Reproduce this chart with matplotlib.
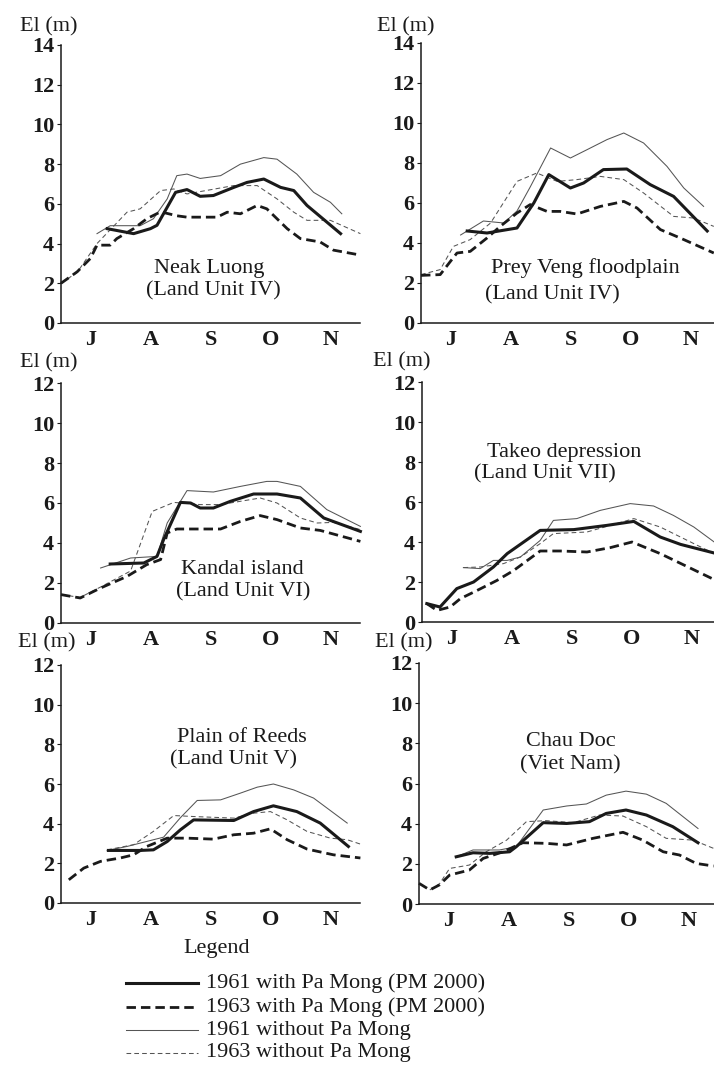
import matplotlib
matplotlib.use("Agg")
import matplotlib.pyplot as plt
from matplotlib.lines import Line2D

plt.rcParams['font.family'] = ['Liberation Serif', 'DejaVu Serif']

# ---------------- data (x in months from 1 July, y = elevation in m) ----------------
MONTHS = ["J", "A", "S", "O", "N"]

# Panel 1: Neak Luong
NL_X_61PM = [0.77, 1.21, 1.49, 1.60, 1.91, 2.10, 2.32, 2.54, 2.88, 3.10, 3.38, 3.66, 3.88, 4.10, 4.66]
NL_Y_61PM = [4.75, 4.50, 4.75, 4.92, 6.58, 6.72, 6.38, 6.42, 6.83, 7.08, 7.25, 6.83, 6.67, 5.92, 4.50]
NL_X_63PM = [0.00, 0.27, 0.49, 0.60, 0.82, 0.93, 1.21, 1.43, 1.66, 1.93, 2.10, 2.60, 2.77, 2.99, 3.27, 3.43, 3.77, 3.99, 4.32, 4.54, 4.99]
NL_Y_63PM = [2.00, 2.58, 3.25, 3.92, 3.92, 4.25, 4.75, 5.25, 5.60, 5.40, 5.33, 5.33, 5.58, 5.50, 5.92, 5.75, 4.75, 4.25, 4.08, 3.67, 3.42]
NL_X_61 = [0.60, 0.82, 1.32, 1.54, 1.77, 1.93, 2.10, 2.32, 2.66, 2.99, 3.38, 3.60, 3.93, 4.21, 4.49, 4.68]
NL_Y_61 = [4.50, 4.90, 4.90, 5.25, 6.25, 7.42, 7.50, 7.28, 7.42, 8.00, 8.33, 8.25, 7.50, 6.58, 6.08, 5.50]
NL_X_63 = [0.00, 0.27, 0.60, 1.10, 1.32, 1.66, 1.88, 2.10, 2.88, 3.27, 3.60, 3.88, 4.10, 4.49, 4.99]
NL_Y_63 = [2.00, 2.55, 4.00, 5.58, 5.75, 6.67, 6.75, 6.50, 6.92, 6.92, 6.25, 5.58, 5.17, 5.17, 4.50]

# Panel 2: Prey Veng floodplain
PV_X_61PM = [0.77, 1.10, 1.60, 1.88, 2.13, 2.49, 2.71, 3.04, 3.43, 3.82, 4.21, 4.77]
PV_Y_61PM = [4.60, 4.50, 4.75, 6.00, 7.42, 6.75, 7.00, 7.67, 7.70, 6.92, 6.33, 4.60]
PV_X_63PM = [0.00, 0.32, 0.49, 0.60, 0.82, 1.10, 1.32, 1.60, 1.82, 2.10, 2.32, 2.60, 2.99, 3.38, 3.60, 3.99, 4.32, 4.88]
PV_Y_63PM = [2.38, 2.42, 3.08, 3.50, 3.58, 4.25, 4.83, 5.50, 5.92, 5.58, 5.58, 5.45, 5.83, 6.08, 5.75, 4.67, 4.25, 3.50]
PV_X_61 = [0.66, 1.04, 1.38, 1.60, 1.82, 2.16, 2.49, 2.77, 3.10, 3.38, 3.71, 4.10, 4.38, 4.71]
PV_Y_61 = [4.40, 5.10, 5.00, 5.60, 6.80, 8.75, 8.25, 8.67, 9.17, 9.50, 9.00, 7.83, 6.75, 5.83]
PV_X_63 = [0.00, 0.32, 0.54, 0.82, 1.16, 1.60, 1.93, 2.27, 2.60, 2.99, 3.38, 3.71, 4.21, 4.54, 4.88]
PV_Y_63 = [2.42, 2.67, 3.83, 4.17, 5.00, 7.08, 7.50, 7.08, 7.17, 7.33, 7.17, 6.50, 5.33, 5.25, 4.83]

# Panel 3: Kandal island
KI_X_61PM = [0.82, 1.38, 1.60, 1.71, 1.99, 2.16, 2.32, 2.54, 2.82, 3.21, 3.60, 3.99, 4.38, 4.99]
KI_Y_61PM = [2.95, 3.00, 3.33, 4.17, 6.03, 6.00, 5.75, 5.75, 6.08, 6.45, 6.45, 6.25, 5.25, 4.58]
KI_X_63PM = [0.00, 0.32, 0.66, 1.10, 1.43, 1.66, 1.77, 1.93, 2.66, 2.99, 3.32, 3.60, 3.99, 4.32, 4.99]
KI_Y_63PM = [1.42, 1.25, 1.75, 2.33, 2.92, 3.17, 4.50, 4.70, 4.70, 5.08, 5.37, 5.17, 4.75, 4.63, 4.08]
KI_X_61 = [0.66, 1.16, 1.60, 1.77, 2.10, 2.54, 2.99, 3.43, 3.60, 3.99, 4.43, 4.99]
KI_Y_61 = [2.75, 3.25, 3.33, 5.00, 6.62, 6.55, 6.83, 7.08, 7.08, 6.83, 5.67, 4.83]
KI_X_63 = [0.00, 0.32, 0.66, 1.16, 1.52, 1.88, 2.32, 2.66, 3.32, 3.60, 3.99, 4.27, 4.54, 4.99]
KI_Y_63 = [1.42, 1.28, 1.80, 2.60, 5.58, 6.03, 5.92, 5.92, 6.25, 6.00, 5.25, 5.00, 5.03, 4.67]

# Panel 4: Takeo depression
TD_X_61PM = [0.08, 0.30, 0.58, 0.86, 1.19, 1.42, 1.97, 2.53, 3.08, 3.53, 3.97, 4.31, 4.87]
TD_Y_61PM = [0.92, 0.75, 1.67, 2.00, 2.75, 3.42, 4.58, 4.62, 4.83, 5.03, 4.25, 3.88, 3.45]
TD_X_63PM = [0.08, 0.25, 0.47, 0.64, 0.90, 1.25, 1.53, 1.97, 2.31, 2.75, 3.14, 3.50, 3.97, 4.87]
TD_Y_63PM = [0.92, 0.58, 0.75, 1.17, 1.55, 2.08, 2.58, 3.55, 3.55, 3.50, 3.72, 4.00, 3.42, 2.12]
TD_X_61 = [0.69, 0.97, 1.19, 1.42, 1.64, 1.97, 2.19, 2.58, 2.97, 3.47, 3.86, 4.19, 4.53, 4.87]
TD_Y_61 = [2.72, 2.67, 3.08, 3.08, 3.25, 4.08, 5.08, 5.17, 5.58, 5.92, 5.80, 5.33, 4.75, 4.00]
TD_X_63 = [0.69, 0.97, 1.36, 1.64, 1.97, 2.19, 2.75, 3.14, 3.53, 3.97, 4.53, 4.87]
TD_Y_63 = [2.72, 2.75, 2.92, 3.25, 3.92, 4.42, 4.50, 4.83, 5.17, 4.75, 3.92, 3.42]

# Panel 5: Plain of Reeds
PR_X_61PM = [0.79, 1.32, 1.54, 1.77, 1.99, 2.21, 2.88, 3.21, 3.54, 3.93, 4.32, 4.79]
PR_Y_61PM = [2.65, 2.65, 2.68, 3.10, 3.69, 4.19, 4.16, 4.61, 4.90, 4.61, 4.03, 2.85]
PR_X_63PM = [0.13, 0.38, 0.66, 0.99, 1.21, 1.43, 1.77, 2.10, 2.54, 2.88, 3.21, 3.49, 3.77, 4.10, 4.54, 4.99]
PR_Y_63PM = [1.17, 1.76, 2.10, 2.27, 2.43, 2.85, 3.27, 3.27, 3.22, 3.44, 3.52, 3.74, 3.19, 2.72, 2.43, 2.27]
PR_X_61 = [0.77, 1.10, 1.32, 1.71, 1.99, 2.27, 2.66, 2.99, 3.27, 3.54, 3.88, 4.21, 4.77]
PR_Y_61 = [2.65, 2.85, 3.02, 3.32, 4.30, 5.17, 5.20, 5.54, 5.84, 6.00, 5.70, 5.29, 4.03]
PR_X_63 = [0.77, 1.21, 1.54, 1.88, 2.21, 2.88, 3.21, 3.49, 3.77, 4.10, 4.49, 4.77, 4.99]
PR_Y_63 = [2.68, 2.94, 3.61, 4.41, 4.36, 4.28, 4.53, 4.61, 4.19, 3.61, 3.27, 3.19, 2.97]

# Panel 6: Chau Doc
CD_X_61PM = [0.62, 0.90, 1.18, 1.51, 1.62, 2.07, 2.46, 2.84, 3.12, 3.45, 3.79, 4.23, 4.65]
CD_Y_61PM = [2.35, 2.55, 2.52, 2.60, 2.85, 4.05, 4.01, 4.10, 4.51, 4.68, 4.43, 3.85, 3.05]
CD_X_63PM = [0.00, 0.18, 0.34, 0.51, 0.84, 1.07, 1.40, 1.73, 2.12, 2.46, 2.90, 3.40, 3.73, 4.07, 4.34, 4.62, 4.91]
CD_Y_63PM = [1.03, 0.70, 0.95, 1.44, 1.69, 2.27, 2.60, 3.05, 3.02, 2.94, 3.27, 3.57, 3.18, 2.60, 2.44, 2.02, 1.89]
CD_X_61 = [0.62, 0.90, 1.34, 1.62, 2.07, 2.46, 2.79, 3.12, 3.45, 3.79, 4.12, 4.65]
CD_Y_61 = [2.35, 2.69, 2.69, 2.85, 4.68, 4.88, 4.98, 5.42, 5.62, 5.47, 5.01, 3.76]
CD_X_63 = [0.18, 0.34, 0.51, 0.84, 1.12, 1.46, 1.79, 2.12, 2.57, 3.01, 3.40, 3.79, 4.12, 4.57, 4.91]
CD_Y_63 = [0.70, 1.00, 1.77, 1.94, 2.60, 3.18, 4.10, 4.15, 4.05, 4.43, 4.38, 3.85, 3.27, 3.18, 2.77]

LEGEND_LABELS = ["1961 with Pa Mong (PM 2000)", "1963 with Pa Mong (PM 2000)",
                 "1961 without Pa Mong", "1963 without Pa Mong"]

# ---------------- figure ----------------
W, H = 714, 1076
fig = plt.figure(figsize=(W / 100, H / 100), dpi=100)
INK = "#1a1a1a"
FS = 16

STYLES = [
    dict(color=INK, lw=2.2, ls="-", solid_joinstyle="round"),
    dict(color=INK, lw=2.0, ls=(0, (3.4, 1.8))),
    dict(color="#555555", lw=0.75, ls="-"),
    dict(color="#555555", lw=0.75, ls=(0, (4.5, 3.0))),
]


def fx(x):
    return x / W


def fy(y):
    return 1 - y / H


def make_axes(l, r, t, b, ymax):
    ax = fig.add_axes([fx(l), fy(b), (r - l) / W, (b - t) / H])
    ax.set_xlim(0, (r - l) / 60.0)
    ax.set_ylim(0, ymax)
    for s in ("top", "right"):
        ax.spines[s].set_visible(False)
    for s in ("left", "bottom"):
        ax.spines[s].set_linewidth(1.1)
        ax.spines[s].set_color(INK)
    ax.set_yticks(range(0, ymax + 1, 2))
    ax.set_yticklabels([str(v) for v in range(0, ymax + 1, 2)], fontsize=FS,
                       color=INK, fontweight="bold")
    ax.tick_params(axis="y", direction="out", length=3, width=0.8, pad=2, colors=INK)
    ax.set_xticks([0.5, 1.5, 2.5, 3.5, 4.5])
    ax.set_xticklabels(MONTHS, fontsize=FS, color=INK, fontweight="bold")
    ax.tick_params(axis="x", length=0, pad=5)
    ax.patch.set_alpha(0)
    return ax


panels = [
    # (l, r, t, b, ymax, series, title lines, title centres, ylabel pos)
    (61, 360, 45, 323, 14,
     [(NL_X_61PM, NL_Y_61PM), (NL_X_63PM, NL_Y_63PM), (NL_X_61, NL_Y_61), (NL_X_63, NL_Y_63)],
     ["Neak Luong", "(Land Unit IV)"], [(209, 269), (213, 291)], (20, 27)),
    (421, 714, 43, 323, 14,
     [(PV_X_61PM, PV_Y_61PM), (PV_X_63PM, PV_Y_63PM), (PV_X_61, PV_Y_61), (PV_X_63, PV_Y_63)],
     ["Prey Veng floodplain", "(Land Unit IV)"], [(585, 268), (552, 295)], (377, 27)),
    (61, 360, 383, 623, 12,
     [(KI_X_61PM, KI_Y_61PM), (KI_X_63PM, KI_Y_63PM), (KI_X_61, KI_Y_61), (KI_X_63, KI_Y_63)],
     ["Kandal island", "(Land Unit VI)"], [(242, 569), (243, 592)], (20, 363)),
    (422, 714, 382, 622, 12,
     [(TD_X_61PM, TD_Y_61PM), (TD_X_63PM, TD_Y_63PM), (TD_X_61, TD_Y_61), (TD_X_63, TD_Y_63)],
     ["Takeo depression", "(Land Unit VII)"], [(564, 452), (545, 474)], (373, 362)),
    (61, 360, 665, 903, 12,
     [(PR_X_61PM, PR_Y_61PM), (PR_X_63PM, PR_Y_63PM), (PR_X_61, PR_Y_61), (PR_X_63, PR_Y_63)],
     ["Plain of Reeds", "(Land Unit V)"], [(242, 737), (233, 760)], (18, 643)),
    (419, 714, 663, 904, 12,
     [(CD_X_61PM, CD_Y_61PM), (CD_X_63PM, CD_Y_63PM), (CD_X_61, CD_Y_61), (CD_X_63, CD_Y_63)],
     ["Chau Doc", "(Viet Nam)"], [(571, 742), (570, 765)], (375, 643)),
]

for l, r, t, b, ymax, series, titles, tpos, ypos in panels:
    ax = make_axes(l, r, t, b, ymax)
    # draw thin lines first, thick lines on top
    for idx in (2, 3, 1, 0):
        xs, ys = series[idx]
        ax.plot(xs, ys, clip_on=False, **STYLES[idx])
    for txt, (cx, cy) in zip(titles, tpos):
        fig.text(fx(cx), fy(cy), txt, ha="center", va="center", fontsize=FS, color=INK)
    fig.text(fx(ypos[0]), fy(ypos[1]), "El (m)", ha="left", va="center", fontsize=FS, color=INK)

# ---------------- legend ----------------
fig.text(fx(217), fy(948), "Legend", ha="center", va="center", fontsize=FS, color=INK)
legend_rows = [983, 1007, 1030, 1053]
for label, row, st in zip(LEGEND_LABELS, legend_rows, STYLES):
    fig.add_artist(Line2D([fx(126), fx(198)], [fy(row), fy(row)], transform=fig.transFigure, **st))
    fig.text(fx(206), fy(row), label, ha="left", va="center", fontsize=FS, color=INK)

fig.savefig("out.png", dpi=100)
